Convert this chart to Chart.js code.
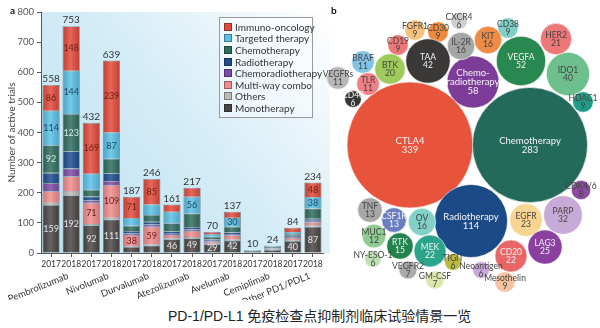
<!DOCTYPE html>
<html>
<head>
<meta charset="utf-8">
<script src="https://cdn.jsdelivr.net/npm/chart.js@4.4.1/dist/chart.umd.min.js"></script>
<style>
  html, body { margin: 0; padding: 0; background: #fff; }
  body { width: 600px; height: 328px; position: relative; overflow: hidden; font-family: Lato, 'Open Sans', sans-serif; }
  #bars-wrap { position: absolute; left: 0; top: 0; width: 330px; height: 300px; }
  #bubble-wrap { position: absolute; left: 320px; top: 0; width: 280px; height: 300px; }
  .tag { position: absolute; font-weight: bold; font-size: 10px; color: #111; }
  #legend { position: absolute; left: 219px; top: 17px; width: 94px; padding: 3px 0 3px 4px; box-sizing: border-box;
            border: 1px solid #9a9a9a; background: rgba(255,255,255,0.35); }
  #legend .row { display: flex; align-items: center; height: 11.6px; font-size: 10px; color: #333; white-space: nowrap; }
  #legend .sw { width: 8px; height: 8px; margin-right: 3px; flex: none; box-sizing: border-box; border: 1px solid rgba(0,0,0,0.35); }
  #caption { position: absolute; left: 168px; top: 305px; font-size: 14px; color: #222;
             font-family: 'Liberation Sans', 'Noto Sans CJK SC', sans-serif; white-space: nowrap; }
</style>
</head>
<body>
<div id="bars-wrap"><canvas id="bars"></canvas></div>
<div id="bubble-wrap"><canvas id="bubbles"></canvas></div>
<div class="tag" style="left:10px;top:4px">a</div>
<div class="tag" style="left:331px;top:4px">b</div>
<div id="legend"></div>
<div id="caption">PD-1/PD-L1 免疫检查点抑制剂临床试验情景一览</div>

<script>
Chart.defaults.font.family = "Lato, 'Open Sans', sans-serif";

// ---- panel a: active trials per drug and year ----
const drugs = ['Pembrolizumab', 'Nivolumab', 'Durvalumab', 'Atezolizumab', 'Avelumab', 'Cemiplimab', 'Other PD1/PDL1'];
const years = ['2017', '2018'];

// one value per bar, drugs in order, 2017 then 2018
const monotherapy  = [159, 192,  92, 111, 20, 25, 46, 49, 29, 42, 8, 10, 40, 87];
const others       = [  8,  13,   4,   6,  2,  3,  3,  4,  2,  3, 0,  1,  3,  5];
const multiWay     = [ 38,  50,  71, 109, 38, 59, 11, 20,  7, 14, 1,  3,  7, 10];
const chemoradio   = [ 27,  26,   8,  13,  5,  8,  4,  5,  3,  4, 0,  1,  3,  5];
const radiotherapy = [ 34,  57,  13,  26,  8,  9,  8,  8,  4,  6, 0,  2,  4,  7];
const chemotherapy = [ 92, 123,  22,  48, 18, 22, 27, 45,  9, 18, 0,  3,  6, 34];
const targeted     = [114, 144,  53,  87, 25, 35, 38, 56,  9, 30, 0,  2,  7, 38];
const immuno       = [ 86, 148, 169, 239, 71, 85, 24, 30,  7, 20, 1,  2, 14, 48];

// bars whose segment carries a printed value
const labelledBars = {
  'Monotherapy': [0, 1, 2, 3, 6, 7, 8, 9, 12, 13],
  'Multi-way combo': [2, 3, 4, 5],
  'Chemotherapy': [0, 1],
  'Targeted therapy': [0, 1, 3, 7, 9, 13],
  'Immuno-oncology': [0, 1, 2, 3, 4, 5, 13]
};

const series = [
  { name: 'Monotherapy',        data: monotherapy,  color: '#4b4646', ink: '#e4e4e4' },
  { name: 'Others',             data: others,       color: '#bcbcb4', ink: '#333' },
  { name: 'Multi-way combo',    data: multiWay,     color: '#f28b8b', ink: '#6b2020' },
  { name: 'Chemoradiotherapy',  data: chemoradio,   color: '#7b4aa6', ink: '#fff' },
  { name: 'Radiotherapy',       data: radiotherapy, color: '#1f4c8e', ink: '#fff' },
  { name: 'Chemotherapy',       data: chemotherapy, color: '#2e6c5d', ink: '#d8ebe4' },
  { name: 'Targeted therapy',   data: targeted,     color: '#5bc0e6', ink: '#1d4663' },
  { name: 'Immuno-oncology',    data: immuno,       color: '#e14a3b', ink: '#6e1d12' }
];

const barLabels = drugs.flatMap(() => years);

const panelBg = {
  id: 'panelBg',
  beforeDraw(chart) {
    const { ctx, chartArea: a } = chart;
    const g = ctx.createLinearGradient(a.left, a.bottom, chart.width, a.top);
    g.addColorStop(0, '#bfe2f2');
    g.addColorStop(0.5, '#d3ecf7');
    g.addColorStop(0.8, '#eef7fb');
    g.addColorStop(1, '#ffffff');
    ctx.save();
    ctx.fillStyle = g;
    ctx.fillRect(a.left, a.top, chart.width - a.left, a.bottom - a.top);
    ctx.restore();
  }
};

const barDecor = {
  id: 'barDecor',
  afterDatasetsDraw(chart) {
    const ctx = chart.ctx;
    const metas = chart.getSortedVisibleDatasetMetas();
    const bottomBars = metas[0].data;
    const topBars = metas[metas.length - 1].data;
    ctx.save();
    // rounded-looking shading across each stacked bar
    bottomBars.forEach((bar, i) => {
      const w = bar.width, x0 = bar.x - w / 2;
      const yTop = topBars[i].y, yBot = bar.base;
      const g = ctx.createLinearGradient(x0, 0, x0 + w, 0);
      g.addColorStop(0, 'rgba(0,0,0,0.14)');
      g.addColorStop(0.45, 'rgba(255,255,255,0.16)');
      g.addColorStop(1, 'rgba(0,0,0,0.14)');
      ctx.fillStyle = g;
      ctx.fillRect(x0, yTop, w, yBot - yTop);
    });
    ctx.textAlign = 'center';
    ctx.textBaseline = 'middle';
    ctx.font = '9px Lato, sans-serif';
    series.forEach((s, si) => {
      (labelledBars[s.name] || []).forEach(i => {
        const el = metas[si].data[i];
        ctx.fillStyle = s.ink;
        ctx.fillText(String(s.data[i]), el.x, (el.y + el.base) / 2);
      });
    });
    // totals above each bar
    ctx.fillStyle = '#333';
    ctx.textBaseline = 'bottom';
    ctx.font = '10px Lato, sans-serif';
    topBars.forEach((bar, i) => {
      const total = series.reduce((sum, s) => sum + s.data[i], 0);
      ctx.fillText(String(total), bar.x, bar.y - 1);
    });
    ctx.restore();
  }
};

const drugNames = {
  id: 'drugNames',
  afterDraw(chart) {
    const ctx = chart.ctx;
    const x = chart.scales.x;
    ctx.save();
    ctx.fillStyle = '#333';
    ctx.font = '9.5px Lato, sans-serif';
    ctx.textAlign = 'right';
    ctx.textBaseline = 'top';
    drugs.forEach((d, gi) => {
      const cx = (x.getPixelForTick(gi * 2) + x.getPixelForTick(gi * 2 + 1)) / 2;
      ctx.save();
      ctx.translate(cx + 5, x.bottom - 29);
      ctx.rotate(-22 * Math.PI / 180);
      ctx.fillText(d, 0, 0);
      ctx.restore();
    });
    ctx.restore();
  }
};

new Chart(document.getElementById('bars'), {
  type: 'bar',
  data: {
    labels: barLabels,
    datasets: series.map(s => ({
      label: s.name,
      data: s.data,
      backgroundColor: s.color,
      borderColor: 'rgba(0,0,0,0.32)',
      borderWidth: 0.8,
      barPercentage: 0.85,
      categoryPercentage: 1.0
    }))
  },
  options: {
    responsive: true,
    maintainAspectRatio: false,
    animation: false,
    layout: { padding: { top: 12, right: 7, left: 0, bottom: 0 } },
    plugins: { legend: { display: false }, tooltip: { enabled: false } },
    scales: {
      x: {
        stacked: true,
        ticks: { color: '#333', font: { size: 8.5 }, padding: 2, maxRotation: 0, autoSkip: false },
        grid: { drawOnChartArea: false, offset: false, tickLength: 4, color: '#555' },
        border: { color: '#555' },
        afterFit(s) { s.height = 47; }
      },
      y: {
        stacked: true,
        min: 0,
        max: 800,
        ticks: { stepSize: 100, color: '#555', font: { size: 9.5 }, padding: 3 },
        grid: { drawOnChartArea: false, tickLength: 4, color: '#555' },
        border: { color: '#555' },
        title: { display: true, text: 'Number of active trials', color: '#444', font: { size: 10 }, padding: { top: 6, bottom: 0 } },
        afterFit(s) { s.width = 41; }
      }
    }
  },
  plugins: [panelBg, barDecor, drugNames]
});

// legend, top entry first
const legend = document.getElementById('legend');
series.slice().reverse().forEach(s => {
  const row = document.createElement('div');
  row.className = 'row';
  row.innerHTML = `<span class="sw" style="background:${s.color}"></span>${s.name}`;
  legend.appendChild(row);
});

// ---- panel b: trials by combination partner ----
const partners = ['CTLA4', 'Chemotherapy', 'Radiotherapy', 'Chemo-\nradiotherapy', 'VEGFA', 'IDO1', 'HER2', 'HDAC1',
  'CD38', 'KIT', 'IL-2R', 'CXCR4', 'CD30', 'FGFR1', 'CD19', 'TAA', 'BTK', 'BRAF', 'TLR', 'VEGFRs', 'CD40',
  'TNF', 'CSF1R', 'OV', 'MUC1', 'RTK', 'MEK', 'NY-ESO-1', 'VEGFR2', 'GM-CSF', 'TIGIT', 'Neoantigen',
  'Mesothelin', 'CD20', 'EGFR', 'LAG3', 'PARP', 'CDK4/6'];
const partnerTrials = [339, 283, 114, 58, 52, 40, 21, 9,
  9, 16, 16, 6, 9, 9, 9, 42, 20, 11, 11, 11, 6,
  13, 13, 16, 12, 15, 22, 6, 7, 7, 6, 6,
  9, 22, 23, 25, 32, 8];
// packed layout of bubble centres
const packX = [85, 205, 146, 148, 196, 243, 231, 258,
  183, 163, 136, 134, 113, 90, 73, 103, 65, 38, 43, 13, 28,
  45, 69, 97, 49, 75, 105, 48, 83, 110, 128, 156,
  180, 186, 201, 220, 238, 256];
const packY = [155, 155, 79, 218, 239, 226, 261, 198,
  272, 260, 254, 279, 268, 270, 255, 239, 231, 238, 216, 222, 201,
  90, 80, 78, 64, 54, 49, 41, 30, 20, 38, 30,
  18, 44, 80, 53, 85, 110];

const partnerColors = ['#e8533c', '#236a5b', '#1c4a87', '#7d3c98', '#27894f', '#6dbf8b', '#ee7777', '#1f9c88',
  '#7fcfc6', '#ee8b47', '#a3a6a3', '#cfcfcf', '#f08a3c', '#f7c27c', '#ef7676', '#3b3838', '#9ecb5b', '#82c4e6',
  '#f07f86', '#b8b8b8', '#383535', '#a7a7a7', '#6b7ec2', '#82d0c6', '#8fcb91', '#23834c', '#2aa58b', '#bfe0b7',
  '#aaaaaa', '#dbe8ad', '#bcbb3e', '#c8a8d8', '#f6c4a0', '#ea6565', '#f8d591', '#8b3fa0', '#c8aad8', '#8a4a9f'];
const lightInk = new Set(['CTLA4', 'Chemotherapy', 'Radiotherapy', 'Chemo-\nradiotherapy', 'VEGFA', 'TAA', 'CD40',
  'CSF1R', 'RTK', 'MEK', 'CD20', 'LAG3']);
const bigNames = new Set(['CTLA4', 'Chemotherapy', 'Radiotherapy', 'Chemo-\nradiotherapy']);

const areaScale = 3.42; // radius per sqrt(trial)

const bubbleText = {
  id: 'bubbleText',
  afterDatasetsDraw(chart) {
    const ctx = chart.ctx;
    const pts = chart.getDatasetMeta(0).data;
    ctx.save();
    ctx.textAlign = 'center';
    ctx.textBaseline = 'middle';
    pts.forEach((p, i) => {
      const name = partners[i];
      const lines = name.split('\n').concat(String(partnerTrials[i]));
      const size = bigNames.has(name) ? 9.5 : 8.5;
      const lh = size * 0.95;
      ctx.font = size + 'px Lato, sans-serif';
      ctx.fillStyle = lightInk.has(name) ? '#f4f4f4' : '#444';
      const y0 = p.y - (lines.length - 1) * lh / 2;
      lines.forEach((t, k) => ctx.fillText(t, p.x, y0 + k * lh));
    });
    ctx.restore();
  }
};

new Chart(document.getElementById('bubbles'), {
  type: 'bubble',
  data: {
    datasets: [{
      data: partners.map((n, i) => ({ x: packX[i], y: packY[i], r: areaScale * Math.sqrt(partnerTrials[i]) })),
      backgroundColor: partnerColors,
      borderColor: 'rgba(255,255,255,0.7)',
      borderWidth: 0.8,
      clip: false
    }]
  },
  options: {
    responsive: true,
    maintainAspectRatio: false,
    animation: false,
    layout: { padding: 0, autoPadding: false },
    plugins: { legend: { display: false }, tooltip: { enabled: false } },
    scales: {
      x: { display: false, min: -5, max: 275 },
      y: { display: false, min: 0, max: 300 }
    }
  },
  plugins: [bubbleText]
});
</script>
</body>
</html>
